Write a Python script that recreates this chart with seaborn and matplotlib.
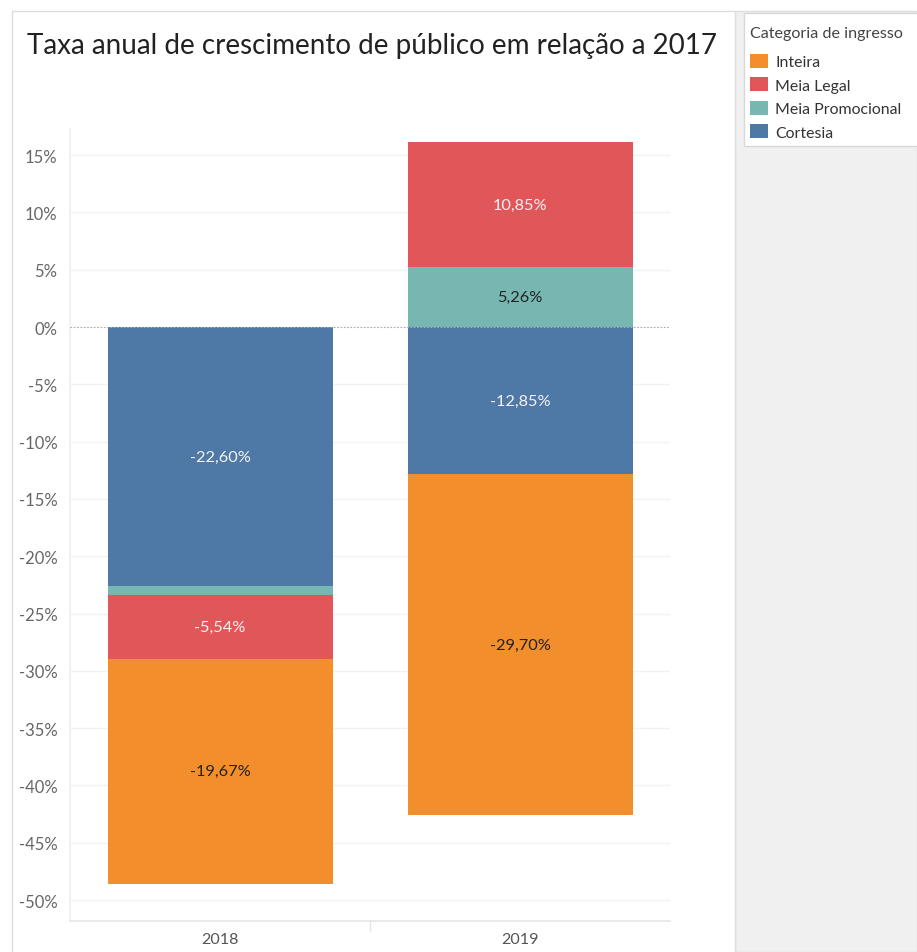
import numpy as np
import pandas as pd
import matplotlib
matplotlib.use("Agg")
import matplotlib.pyplot as plt
from matplotlib.patches import Rectangle, Patch
import seaborn as sns

# Data: annual audience growth vs 2017, by ticket category (percent)
anos = ["2018", "2019"]
categorias = ["Cortesia", "Meia Promocional", "Meia Legal", "Inteira"]
cortesia = [-22.60, -12.85]
meia_promocional = [-0.80, 5.26]
meia_legal = [-5.54, 10.85]
inteira = [-19.67, -29.70]
legenda = ["Inteira", "Meia Legal", "Meia Promocional", "Cortesia"]
yticks = list(range(15, -55, -5))

cores = {
    "Inteira": "#F28E2B",
    "Meia Legal": "#E15759",
    "Meia Promocional": "#76B7B2",
    "Cortesia": "#4E79A7",
}
cor_rotulo = {
    "Inteira": "#222222",
    "Meia Legal": "#F3F3F3",
    "Meia Promocional": "#222222",
    "Cortesia": "#F3F3F3",
}

valores = {
    "Cortesia": cortesia,
    "Meia Promocional": meia_promocional,
    "Meia Legal": meia_legal,
    "Inteira": inteira,
}

# Stack positives and negatives separately, in category order
linhas = []
for i, ano in enumerate(anos):
    pos, neg = 0.0, 0.0
    for cat in categorias:
        v = valores[cat][i]
        if v >= 0:
            ini, pos = pos, pos + v
            fim = pos
        else:
            ini, neg = neg, neg + v
            fim = neg
        linhas.append({"ano": ano, "categoria": cat, "valor": v,
                       "inicio": ini, "fim": fim})
df = pd.DataFrame(linhas)

sns.set_theme(style="white")
plt.rcParams["font.family"] = ["Lato", "DejaVu Sans"]

W, H = 917, 953
fig = plt.figure(figsize=(W / 100, H / 100), dpi=100)

# side panel, sheet border and legend card
fig.patches.append(Rectangle((735 / W, 0), 1 - 735 / W, 1 - 12 / H,
                             transform=fig.transFigure, facecolor="#F0F0F0",
                             edgecolor="#DDDDDD", linewidth=1, zorder=-10))
fig.patches.append(Rectangle((12 / W, -0.01), (735 - 12) / W, 1 - 12 / H + 0.01,
                             transform=fig.transFigure, facecolor="white",
                             edgecolor="#DDDDDD", linewidth=1, zorder=-10))
fig.patches.append(Rectangle((744 / W, 1 - 147 / H), (W + 5 - 744) / W, (147 - 14) / H,
                             transform=fig.transFigure, facecolor="white",
                             edgecolor="#D8D8D8", linewidth=1, zorder=-9))

ax = fig.add_axes([70 / W, 1 - 922 / H, 600 / W, (922 - 130) / H])
ax.set_facecolor("none")
ax.set_zorder(5)

# draw cumulative ends from the outermost segment inward so that
# inner segments cover the overlapped part of outer ones
for cat in reversed(categorias):
    sub = df[df["categoria"] == cat]
    sns.barplot(data=sub, x="ano", y="fim", order=anos, color=cores[cat],
                saturation=1, width=0.75, linewidth=0, ax=ax, zorder=3)

for _, r in df.iterrows():
    if abs(r["valor"]) < 2:
        continue
    xi = anos.index(r["ano"])
    yc = (r["inicio"] + r["fim"]) / 2
    txt = f"{r['valor']:.2f}%".replace(".", ",")
    ax.text(xi, yc, txt, ha="center", va="center", fontsize=11.8,
            color=cor_rotulo[r["categoria"]], zorder=5)

ax.set_xlim(-0.5, 1.5)
ax.set_ylim(-51.83, 17.28)
ax.set_yticks(yticks)
ax.set_yticklabels([f"{t}%" for t in yticks])
ax.set_xlabel("")
ax.set_ylabel("")
ax.tick_params(axis="y", length=0, labelsize=12, labelcolor="#666666", pad=9)
ax.tick_params(axis="x", length=0, labelsize=11.6, labelcolor="#555555", pad=8)

for t in yticks:
    if t != 0:
        ax.axhline(t, color="#F2F2F2", linewidth=1, zorder=1)
ax.axhline(0, color="#AAAAAA", linewidth=0.8, linestyle=(0, (1.5, 1.5)), zorder=4)
# short divider between the year headers
ax.plot([0.5, 0.5], [0, -0.012], transform=ax.get_xaxis_transform(),
        color="#E6E6E6", linewidth=1, clip_on=False)

for s in ["top", "right"]:
    ax.spines[s].set_visible(False)
ax.spines["left"].set_color("#F0F0F0")
ax.spines["bottom"].set_color("#E6E6E6")

fig.text(27 / W, 1 - 46 / H, "Taxa anual de crescimento de público em relação a 2017",
         fontsize=20, color="#222222", ha="left", va="center")

handles = [Patch(facecolor=cores[c], edgecolor="none") for c in legenda]
leg = fig.legend(handles, legenda, title="Categoria de ingresso",
                 loc="upper left", bbox_to_anchor=(750 / W, 1 - 27 / H),
                 frameon=False, fontsize=11.4, title_fontsize=11.6,
                 alignment="left", handlelength=1.15, handleheight=0.95,
                 handletextpad=0.45, labelspacing=0.52, borderpad=0,
                 borderaxespad=0)
leg._legend_box.sep = 10
for t in leg.get_texts():
    t.set_color("#333333")
leg.get_title().set_color("#444444")

fig.savefig("out.png", dpi=100)
